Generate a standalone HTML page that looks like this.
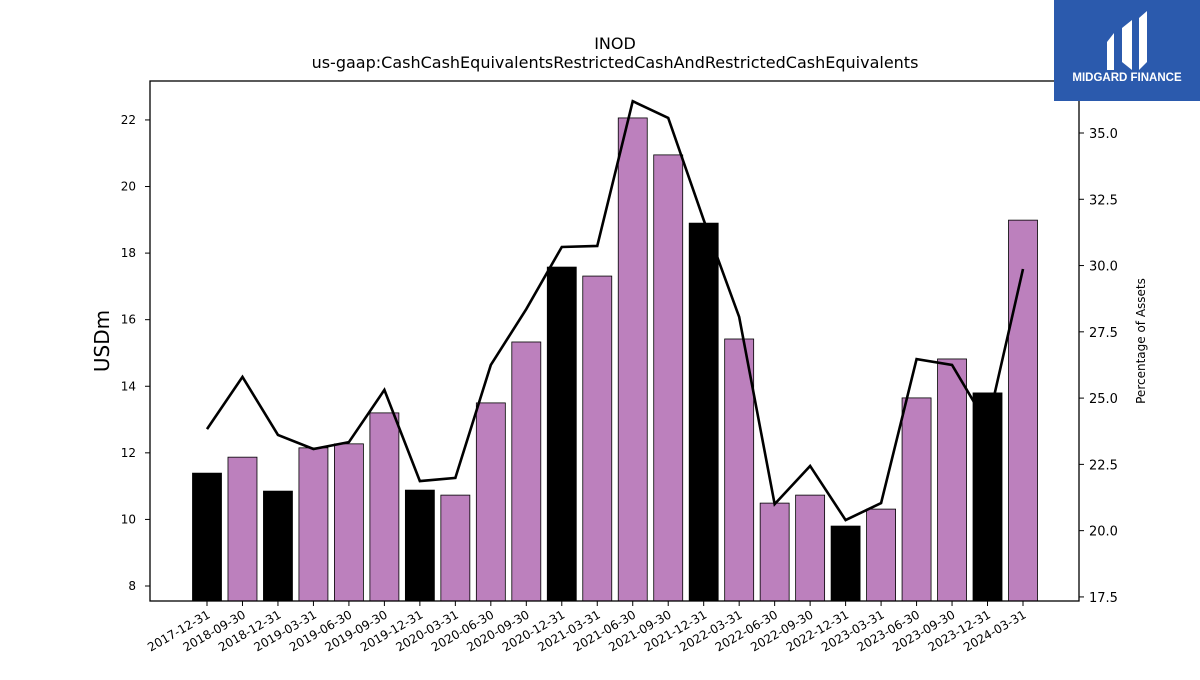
<!DOCTYPE html>
<html><head><meta charset="utf-8"><style>
body{margin:0;background:#fff;font-family:"Liberation Sans","DejaVu Sans",sans-serif}
</style></head><body>
<svg id="c" width="1200" height="675" xmlns="http://www.w3.org/2000/svg" font-family="DejaVu Sans, Liberation Sans, sans-serif">
<text x="615" y="49" text-anchor="middle" font-size="16">INOD</text>
<text x="615" y="68" text-anchor="middle" font-size="16">us-gaap:CashCashEquivalentsRestrictedCashAndRestrictedCashEquivalents</text>
<g id="plot"></g>
<rect x="150" y="81" width="929" height="520" fill="none" stroke="#000" stroke-width="1.3"/>
<text transform="translate(109,341) rotate(-90)" text-anchor="middle" font-size="20">USDm</text>
<text transform="translate(1145,341) rotate(-90)" text-anchor="middle" font-size="12">Percentage of Assets</text>
<g>
<rect x="1054" y="0" width="146" height="101" fill="#2b5aad"/>
<path d="M1107,42 L1114,33 L1114,70 L1107,70 Z" fill="#fff"/>
<path d="M1122,28 L1132,20 L1132,70 L1122,62 Z" fill="#fff"/>
<path d="M1139,18 L1147,11 L1147,62 L1139,70 Z" fill="#fff"/>
<text x="1127" y="81" text-anchor="middle" font-size="11.5" font-weight="bold" fill="#fff" font-family="Liberation Sans, sans-serif">MIDGARD FINANCE</text>
</g>
</svg>
<script>
const categories=["2017-12-31","2018-09-30","2018-12-31","2019-03-31","2019-06-30","2019-09-30","2019-12-31","2020-03-31","2020-06-30","2020-09-30","2020-12-31","2021-03-31","2021-06-30","2021-09-30","2021-12-31","2022-03-31","2022-06-30","2022-09-30","2022-12-31","2023-03-31","2023-06-30","2023-09-30","2023-12-31","2024-03-31"];
const cashValues=[11.39,11.87,10.85,12.15,12.27,13.2,10.88,10.73,13.5,15.33,17.58,17.31,22.06,20.95,18.9,15.42,10.49,10.73,9.8,10.31,13.65,14.82,13.8,18.99];
const pctValues=[23.83,25.8,23.61,23.08,23.34,25.31,21.87,21.99,26.25,28.36,30.7,30.74,36.2,35.57,31.72,28.06,21.0,22.44,20.4,21.04,26.47,26.25,23.99,29.87];
const yTicks=[8,10,12,14,16,18,20,22];
const y2Ticks=[17.5,20.0,22.5,25.0,27.5,30.0,32.5,35.0];
const ns="http://www.w3.org/2000/svg";
const g=document.getElementById('plot');
const x=i=>207+i*(1023-207)/(categories.length-1);
const y=v=>586-(v-8)*33.29;
const y2=v=>133+(35-v)*26.51;
function mk(t,a){const e=document.createElementNS(ns,t);for(const k in a)e.setAttribute(k,a[k]);g.appendChild(e);return e;}
categories.forEach((c,i)=>{
 const black=(c.endsWith("12-31"));
 const r=mk('rect',{x:x(i)-14.5,y:y(cashValues[i]),width:29,height:601-y(cashValues[i]),fill:black?'#000':'#bc80bd',stroke:'#000','stroke-width':0.8});
 
 
 const tk=mk('line',{x1:x(i),x2:x(i),y1:601,y2:606,stroke:'#000'});
 
 
 const t=mk('text',{x:0,y:0,'font-size':12,'text-anchor':'end',transform:`translate(${x(i)+4},${617}) rotate(-30)`});
 t.textContent=c;
 
 
});
const p=mk('polyline',{points:pctValues.map((v,i)=>x(i)+','+y2(v)).join(' '),fill:'none',stroke:'#000','stroke-width':2.6});


yTicks.forEach(v=>{
 const l=mk('line',{x1:145,x2:150,y1:y(v),y2:y(v),stroke:'#000'});
 
 
 const t=mk('text',{x:136,y:y(v)+4,'font-size':12,'text-anchor':'end'});t.textContent=v;
 
 
});
y2Ticks.forEach(v=>{
 const l=mk('line',{x1:1079,x2:1084,y1:y2(v),y2:y2(v),stroke:'#000'});
 
 
 const t=mk('text',{x:1089,y:y2(v)+5,'font-size':13}); t.textContent=v.toFixed(1);
 
 
});
</script>
</body></html>
